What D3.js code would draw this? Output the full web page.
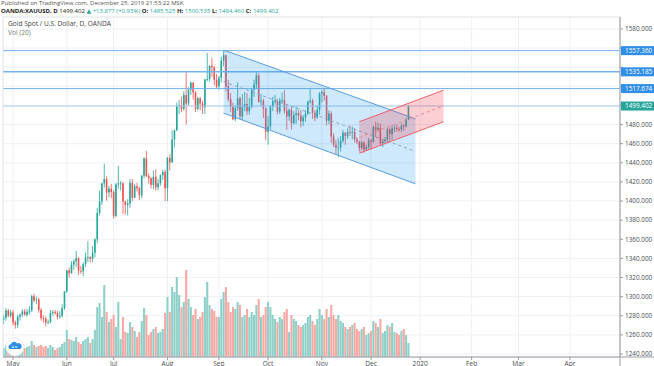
<!DOCTYPE html>
<html><head><meta charset="utf-8">
<script src="https://cdn.jsdelivr.net/npm/d3@7"></script>
<style>
body{margin:0;background:#fff;overflow:hidden}
svg{display:block;font-family:"Open Sans",Lato,"DejaVu Sans",sans-serif}
</style>
</head><body>
<svg id="c" width="654" height="366"></svg>
<script>
// ---------------- DATA ----------------
const firstDay = "2019-04-24";
const lastFutureDay = "2020-05-15";
const closedDays = ["2019-12-25", "2020-01-01"];

const openP = [
 1271.5,1275.8,1278,1285.5,1280,
 1283.5,1273,1270.5,1279,1281,1284.5,1281,1284,1285.5,1300.5,1296,1297,1286,1277.5,1277,1273,1273.5,1283,1284,1283,1279,1280,1288,
 1305.5,1327.5,1324.5,1333.5,1337,1340.5,1327,1326.5,1334,1341,1341.5,1339.5,1346,1360,1387.5,1399.5,1418.5,1423,1409,1413,
 1409.5,1384.5,1417.5,1418.5,1418.5,1399.5,1396,1397.5,1419,1403.5,1415.5,1413.5,1406,1426.5,1444.5,1426,1424,1417,1425.5,1414.5,1418.5,1427,1430.5,
 1413.5,1445,1440.5,1464.5,1474,1499.5,1500.5,1496.5,1511,1502,1516.5,1524,1513.5,1496.5,1507.5,1502,1498,1527,1527.5,1541.5,1540,1527,
 1520,1529,1547,1552.5,1520,1506.5,1498.5,1485.5,1497,1507.5,1488.5,1498.5,1501.5,1494,1498.5,1516.5,1522,1531.5,1504,1505,1497,
 1472.5,1478,1498.5,1504.5,1504.5,1493.5,1505,1505.5,1494.5,1488.5,1495.5,1481.5,1490,1492,1489.5,1483.5,1487.5,1491.5,1503.5,1505,1492.5,1487.5,1495.5,
 1512.5,1514,1510,1484,1491.5,1467.5,1459,1456,1456,1463,1471.5,1468,1472,1471.5,1472.5,1464.5,1462,1455.5,1461.5,1454,1456.5,
 1463.5,1462,1477.5,1474.5,1476.5,1460.5,1462.5,1464.5,1475,1470,1476,1476.5,1475.5,1474.5,1479,1478,1485.525
];
const highP = [
 1276.5,1281,1288,1287,1286,
 1286,1275,1281,1282.5,1287,1287,1287,1290,1302,1303,1300,1299,1288,1280.5,1279,1276,1286,1286,1286,1285,1285,1292,1306,
 1328,1330.5,1337,1339,1348,1341,1332,1336,1346,1358,1342,1353,1361,1393,1411,1419,1439,1426,1416,1418,
 1411,1419,1437,1421,1420,1400.5,1402,1423,1423,1418,1419,1415,1427,1446,1452.5,1429,1425,1432,1433,1423,1428,1433,1433,
 1446,1449,1474,1475,1503,1506,1509,1515,1535,1519,1525,1524,1515,1509,1509,1505,1528,1555,1542,1550,1541,1533,
 1531,1551,1557.4,1553,1526.5,1513,1503,1500,1524,1509,1512,1514,1513,1508,1518,1527,1535.5,1534,1512,1507,1498,
 1489,1500,1509,1511,1507,1508,1513.5,1516,1500,1497,1499,1494,1499,1495,1495,1490,1495,1505.5,1518,1507,1495,1500,1514,
 1516,1517.7,1511,1495,1494,1471,1464,1466,1468,1474.5,1472,1476,1479,1478,1476,1467,1463,1463,1462,1459,1466,
 1465,1479,1483,1482,1481,1464.5,1467,1477,1477,1479.5,1479,1480,1477.5,1481,1481,1487,1500.535
];
const lowP = [
 1266,1271,1275,1278.5,1278,
 1270,1266.5,1267,1275,1279,1280,1279,1281,1284,1294,1292,1283,1275,1273,1269,1271,1272,1280,1281,1276,1277,1278,1286,
 1304,1320,1324,1328,1331,1322.5,1324,1321.5,1331,1336,1336,1336,1341,1356,1385,1396,1414,1400.5,1404,1403,
 1381.5,1383,1413,1411,1386.5,1386,1385,1393,1400,1403,1410,1401,1403,1424,1425,1418,1413,1412.5,1411,1411.5,1416,1422,1400,
 1400,1432,1440,1456,1473,1491,1493,1495,1480,1500,1511,1506,1493,1495,1495,1491,1491,1525,1525,1530,1521,1518,
 1516,1524,1541,1515,1504,1493,1484.5,1483.5,1494.5,1485.5,1485,1494,1490,1490.5,1497,1509,1518,1503,1500,1487,1463.5,
 1459,1475,1494,1501,1490.5,1491,1502,1491.5,1474.5,1484,1475,1480,1480.5,1484.5,1477,1478.5,1483,1490,1502,1486,1483.5,1486,1490.5,
 1503,1505,1479.5,1480.5,1461,1456.5,1449,1445.7,1452,1461,1459,1465,1468,1464.5,1461,1459.5,1452,1454,1450.5,1452.5,1454,
 1454,1461,1467,1472.5,1458.5,1456.5,1460,1461.5,1463.5,1464,1472,1473,1472.5,1472,1473.5,1477,1484.46
];
const closeP = [
 1275.8,1278,1285.5,1280,1283.5,
 1273,1270.5,1279,1281,1284.5,1281,1284,1285.5,1300.5,1296,1297,1286,1277.5,1277,1273,1273.5,1283,1284,1283,1279,1280,1288,1305.5,
 1327.5,1324.5,1333.5,1337,1340.5,1327,1326.5,1334,1341,1341.5,1339.5,1346,1360,1387.5,1399.5,1418.5,1423,1409,1413,1409.5,
 1384.5,1417.5,1418.5,1418.5,1399.5,1396,1397.5,1419,1403.5,1415.5,1413.5,1406,1426.5,1444.5,1426,1424,1417,1425.5,1414.5,1418.5,1427,1430.5,1413.5,
 1445,1440.5,1464.5,1474,1499.5,1500.5,1496.5,1511,1502,1516.5,1524,1513.5,1496.5,1507.5,1502,1498,1527,1527.5,1541.5,1540,1527,1520,
 1529,1547,1552.5,1520,1506.5,1498.5,1485.5,1497,1507.5,1488.5,1498.5,1501.5,1494,1498.5,1516.5,1522,1531.5,1504,1505,1497,1472.5,
 1478,1498.5,1504.5,1504.5,1493.5,1505,1505.5,1494.5,1488.5,1495.5,1481.5,1490,1492,1489.5,1483.5,1487.5,1491.5,1503.5,1505,1492.5,1487.5,1495.5,1512.5,
 1514,1510,1484,1491.5,1467.5,1459,1456,1456,1463,1471.5,1468,1472,1471.5,1472.5,1464.5,1462,1455.5,1461.5,1454,1456.5,1463.5,
 1462,1477.5,1474.5,1476.5,1460.5,1462.5,1464.5,1475,1470,1476,1476.5,1475.5,1474.5,1479,1478,1485.525,1499.402
];
const volume = [
 10,9,12,8,10,
 11,10,12,9,10,9,10,11,16,12,10,11,12,10,11,9,12,10,7,9,10,13,15,
 27,18,17,16,20,15,13,16,18,20,14,18,27,50,54,40,72,45,35,38,
 42,30,55,18,40,25,24,35,30,26,20,25,36,49,42,22,25,28,30,24,25,28,44,
 60,45,70,65,80,62,50,55,87,58,50,42,48,38,40,45,60,75,52,48,46,40,
 40,58,65,70,55,45,50,48,55,52,40,42,48,40,45,42,52,58,40,42,50,
 55,50,42,38,35,40,38,45,48,25,42,38,36,32,30,32,34,40,42,36,32,38,48,
 42,38,48,40,52,42,38,42,36,34,30,28,30,32,34,28,26,28,30,22,24,
 26,36,34,30,38,24,26,32,30,34,25,24,22,26,28,22,14
];
const priceTicks = [1240,1260,1280,1300,1320,1340,1360,1380,1400,1420,1440,1460,1480,1500,1520,1540,1560,1580];
const levelLines = [1557.360, 1535.185, 1517.674];
const lastPrice = 1499.402;
const blueChannel = {from: "2019-09-04", to: "2019-12-30", top: [1558, 1486], bottom: [1492, 1418]};
const redChannel  = {from: "2019-11-25", to: "2020-01-16", top: [1483, 1516], bottom: [1450, 1483]};
const headerLine1 = "Published on TradingView.com, December 25, 2019 21:53:22 MSK";
const symbolTitle = "Gold Spot / U.S. Dollar, D, OANDA";
const volTitle = "Vol (20)";

// ---------------- CHART ----------------
const svg = d3.select("#c");
const paneL = 3, paneR = 620, paneT = 17, paneB = 357;

const fmt = d3.utcFormat("%Y-%m-%d");
const parse = d3.utcParse("%Y-%m-%d");
const days = d3.utcDay.range(parse(firstDay), d3.utcDay.offset(parse(lastFutureDay), 1))
  .filter(d => d.getUTCDay() !== 0 && d.getUTCDay() !== 6 && !closedDays.includes(fmt(d)));
const idxOf = s => days.findIndex(d => fmt(d) === s);

const x = d3.scaleLinear().domain([-0.556, 264.4]).range([0, 620]);
const y = d3.scaleLinear().domain([1240, 1580]).range([354, 29]);
const yV = d3.scaleLinear().domain([0, d3.max(volume)]).range([paneB, 270]);

const bars = closeP.map((c, i) => ({i, o: openP[i], h: highP[i], l: lowP[i], c, v: volume[i], up: c >= openP[i]}));

const monthTicks = [];
days.forEach((d, i) => {
  if (i > 0 && d.getUTCMonth() !== days[i-1].getUTCMonth() && x(i) < paneR - 12) monthTicks.push({i, d});
});

svg.append("defs").append("clipPath").attr("id", "pane")
  .append("rect").attr("x", paneL).attr("y", paneT).attr("width", paneR - paneL).attr("height", paneB - paneT);

const g = svg.append("g").attr("clip-path", "url(#pane)");

// grid
g.selectAll(".hg").data(priceTicks).join("line")
  .attr("x1", paneL).attr("x2", paneR).attr("y1", d => y(d)).attr("y2", d => y(d))
  .attr("stroke", "#eef0f4").attr("stroke-width", 1);
g.selectAll(".vg").data(monthTicks).join("line")
  .attr("x1", d => x(d.i)).attr("x2", d => x(d.i)).attr("y1", paneT).attr("y2", paneB)
  .attr("stroke", "#eef0f4").attr("stroke-width", 1);

// volume
const bw = (x(1) - x(0));
g.selectAll(".vol").data(bars).join("rect")
  .attr("x", d => x(d.i) - bw * 0.45).attr("width", bw * 0.9)
  .attr("y", d => yV(d.v)).attr("height", d => paneB - yV(d.v))
  .attr("fill", d => d.up ? "#8fd1c9" : "#f6a9a5");

// candles
const cg = g.append("g");
cg.selectAll(".wick").data(bars).join("line")
  .attr("x1", d => x(d.i)).attr("x2", d => x(d.i))
  .attr("y1", d => y(d.h)).attr("y2", d => y(d.l))
  .attr("stroke", d => d.up ? "#26a69a" : "#ef5350").attr("stroke-width", 0.8);
cg.selectAll(".body").data(bars).join("rect")
  .attr("x", d => x(d.i) - bw * 0.34).attr("width", bw * 0.68)
  .attr("y", d => y(Math.max(d.o, d.c)))
  .attr("height", d => Math.max(0.8, Math.abs(y(d.o) - y(d.c))))
  .attr("fill", d => d.up ? "#26a69a" : "#ef5350");

// horizontal level lines
g.selectAll(".lvl").data(levelLines).join("line")
  .attr("x1", paneL).attr("x2", paneR).attr("y1", d => y(d)).attr("y2", d => y(d))
  .attr("stroke", "#74b3ec").attr("stroke-width", (d, i) => i === 1 ? 1.5 : 1);
g.append("line").attr("x1", paneL).attr("x2", paneR).attr("y1", y(lastPrice)).attr("y2", y(lastPrice))
  .attr("stroke", "#a9cdee").attr("stroke-width", 1);

// channels
function channel(ch, lineCol, fillCol, midCol) {
  const i0 = idxOf(ch.from), i1 = idxOf(ch.to);
  const pts = [[x(i0), y(ch.top[0])], [x(i1), y(ch.top[1])], [x(i1), y(ch.bottom[1])], [x(i0), y(ch.bottom[0])]];
  g.append("path").attr("d", "M" + pts.join("L") + "Z").attr("fill", fillCol);
  g.append("line").attr("x1", pts[0][0]).attr("y1", pts[0][1]).attr("x2", pts[1][0]).attr("y2", pts[1][1])
    .attr("stroke", lineCol).attr("stroke-width", 1);
  g.append("line").attr("x1", pts[3][0]).attr("y1", pts[3][1]).attr("x2", pts[2][0]).attr("y2", pts[2][1])
    .attr("stroke", lineCol).attr("stroke-width", 1);
  g.append("line").attr("x1", pts[0][0]).attr("y1", y((ch.top[0] + ch.bottom[0]) / 2))
    .attr("x2", pts[1][0]).attr("y2", y((ch.top[1] + ch.bottom[1]) / 2))
    .attr("stroke", midCol).attr("stroke-width", 1).attr("stroke-dasharray", "3,3");
}
channel(blueChannel, "#5a9be2", "rgba(33,150,243,0.22)", "#8aa4c2");
channel(redChannel, "#f0606b", "rgba(242,54,69,0.24)", "#e88a90");

// pane border
svg.append("rect").attr("x", paneL).attr("y", paneT).attr("width", paneR - paneL).attr("height", paneB - paneT)
  .attr("fill", "none").attr("stroke", "#d6d9e0").attr("stroke-width", 0.8);
svg.append("line").attr("x1", paneR).attr("x2", paneR).attr("y1", paneT).attr("y2", 366)
  .attr("stroke", "#9a9ca3").attr("stroke-width", 1);
svg.append("line").attr("x1", paneL).attr("x2", 654).attr("y1", paneB).attr("y2", paneB)
  .attr("stroke", "#9a9ca3").attr("stroke-width", 1);

// value labels (drawn on the axis)
const labs = levelLines.map(v => ({v, col: "#2f8ee5"})).concat([{v: lastPrice, col: "#26a69a"}]);

// right price axis: ticks, and labels not hidden by value labels
const ax = svg.append("g");
ax.selectAll(".pt").data(priceTicks).join("line")
  .attr("x1", paneR).attr("x2", paneR + 3).attr("y1", d => y(d)).attr("y2", d => y(d)).attr("stroke", "#9a9ca3");
const freeTicks = priceTicks.filter(t => labs.every(l => Math.abs(y(t) - y(l.v)) > 8));
ax.selectAll(".pl").data(freeTicks).join("text")
  .attr("x", paneR + 5).attr("y", d => y(d)).attr("dy", "0.35em")
  .attr("font-size", 6.4).attr("fill", "#4a4d55").text(d => d3.format(".3f")(d));

const lg = svg.append("g");
lg.selectAll("rect").data(labs).join("rect")
  .attr("x", paneR + 1).attr("y", d => y(d.v) - 4.5).attr("width", 34).attr("height", 9).attr("fill", d => d.col);
lg.selectAll("text").data(labs).join("text")
  .attr("x", paneR + 5).attr("y", d => y(d.v)).attr("dy", "0.35em")
  .attr("font-size", 6.4).attr("fill", "#fff").text(d => d3.format(".3f")(d.v));

// bottom time axis
const tx = svg.append("g");
tx.selectAll("line").data(monthTicks).join("line")
  .attr("x1", d => x(d.i)).attr("x2", d => x(d.i)).attr("y1", paneB).attr("y2", paneB + 3).attr("stroke", "#9a9ca3");
tx.selectAll("text").data(monthTicks).join("text")
  .attr("x", d => x(d.i)).attr("y", 365.5).attr("text-anchor", "middle")
  .attr("font-size", 6.6).attr("fill", "#4a4d55")
  .text(d => d.d.getUTCMonth() === 0 ? d3.utcFormat("%Y")(d.d) : d3.utcFormat("%b")(d.d));

// header
svg.append("text").attr("x", 1).attr("y", 4.5).attr("font-size", 6).attr("fill", "#555").text(headerLine1);
const h2 = svg.append("text").attr("x", 1).attr("y", 12.5).attr("font-size", 6);
const last = bars[bars.length - 1], prev = bars[bars.length - 2];
const chg = last.c - prev.c;
h2.append("tspan").attr("fill", "#222").attr("font-weight", "bold").text("OANDA:XAUUSD, D ");
h2.append("tspan").attr("fill", "#222").text(d3.format(".3f")(last.c) + " ");
h2.append("tspan").attr("fill", "#26a69a").text("▲ +" + d3.format(".3f")(chg) + " (+" + d3.format(".2f")(chg / prev.c * 100) + "%) ");
[["O:", last.o], ["H:", last.h], ["L:", last.l], ["C:", last.c]].forEach(([k, v]) => {
  h2.append("tspan").attr("fill", "#222").attr("font-weight", "bold").text(k + " ");
  h2.append("tspan").attr("fill", "#26a69a").text(d3.format(".3f")(v) + " ");
});

// legend
svg.append("text").attr("x", 8).attr("y", 26).attr("font-size", 6.6).attr("fill", "#444").text(symbolTitle);
svg.append("text").attr("x", 8).attr("y", 34.5).attr("font-size", 6.6).attr("fill", "#777").text(volTitle);

// logo
const logo = svg.append("g").attr("transform", "translate(15,347)");
logo.append("circle").attr("r", 9).attr("fill", "#fff").attr("stroke", "#e3e6ec").attr("stroke-width", 0.8);
logo.append("path").attr("d", "M-5,2 a2.5,2.5 0 0 1 1,-4.8 a3.2,3.2 0 0 1 6,-0.6 a2.6,2.6 0 0 1 3,5.4 z").attr("fill", "#2e8de6");
logo.append("path").attr("d", "M-3,0.5 L-1,0.5 M-2,0.5 L-2,-1.5 M0,-1 L1.2,0.8 L2.4,-1").attr("stroke", "#fff").attr("stroke-width", 0.7).attr("fill", "none");
</script>
</body></html>
